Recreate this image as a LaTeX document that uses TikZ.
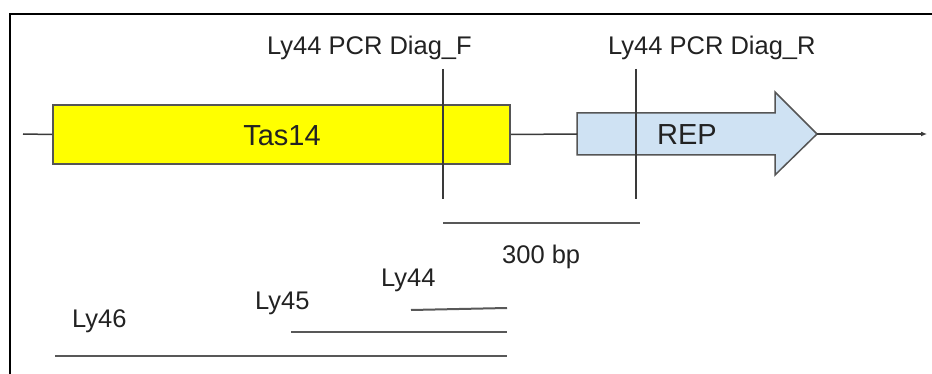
\documentclass[tikz,border=0pt]{standalone}
\usepackage{fontspec}
\setmainfont{Liberation Sans}
\usetikzlibrary{arrows.meta}
\definecolor{ink}{HTML}{3A3A3A}
\definecolor{txt}{HTML}{222222}
\definecolor{tasyellow}{HTML}{FFFF00}
\definecolor{repblue}{HTML}{CFE2F3}
\definecolor{edge}{HTML}{555555}
\begin{document}
\begin{tikzpicture}[x=1pt,y=-1pt,
  lbl/.style={font=\fontsize{25.5}{30}\selectfont, text=txt, inner sep=0pt, anchor=base west},
  biglbl/.style={font=\fontsize{29}{34}\selectfont, text=txt, inner sep=0pt, anchor=base},
  seg/.style={draw=ink, line width=1.5pt},
  bar/.style={draw=ink!85, line width=2pt},
  genebox/.style={draw=edge, line width=1.5pt, fill=tasyellow, inner sep=0pt}]
\useasboundingbox (0,0) rectangle (932,374);
\fill[white] (0,0) rectangle (932,374);
% frame
\draw[black, line width=2.5pt] (10,374) -- (10,14) -- (932,14);

% Tas14 box
\node[genebox, minimum width=457pt, minimum height=59pt] (tas) at (281.5,134.5) {};
\node[biglbl] (tastxt) at (282,146) {Tas14};

% REP arrow
\coordinate (reptail) at (577,134);
\coordinate (reptip) at (817,134);
\filldraw[draw=edge, fill=repblue, line width=1.5pt, line join=miter]
  (577,113) -- (775,113) -- (775,92) -- (reptip) -- (775,175) -- (775,155) -- (577,155) -- cycle;
\node[biglbl] (reptxt) at (687,145) {REP};

% backbone
\coordinate (bbL) at (23,134);
\coordinate (bbR) at (927,134);
\draw[seg] (bbL) -- (tas.west);
\draw[seg] (tas.east) -- (reptail);
\draw[seg, -{Latex[length=6pt,width=5pt]}] (reptip) -- (bbR);

% primer lines
\coordinate (fT) at (443,69); \coordinate (fB) at (443,199);
\coordinate (rT) at (636,69); \coordinate (rB) at (636,199);
\draw[seg] (fT) -- (fB);
\draw[seg] (rT) -- (rB);
\node[lbl] (flbl) at (267,55) {Ly44 PCR Diag\_F};
\node[lbl] (rlbl) at (608,55) {Ly44 PCR Diag\_R};

% scale bar
\coordinate (sL) at (443,223); \coordinate (sR) at (640,223);
\draw[bar] (sL) -- (sR);
\node[lbl] (scale) at (502,263) {300 bp};

% amplicons
\coordinate (a44L) at (411,310); \coordinate (a44R) at (507,308);
\coordinate (a45L) at (291,332); \coordinate (a45R) at (507,332);
\coordinate (a46L) at (55,356);  \coordinate (a46R) at (507,356);
\draw[bar] (a44L) -- (a44R);
\draw[bar] (a45L) -- (a45R);
\draw[bar] (a46L) -- (a46R);
\node[lbl] (l44) at (381,287) {Ly44};
\node[lbl] (l45) at (255,309) {Ly45};
\node[lbl] (l46) at (72,327) {Ly46};
\end{tikzpicture}
\end{document}
